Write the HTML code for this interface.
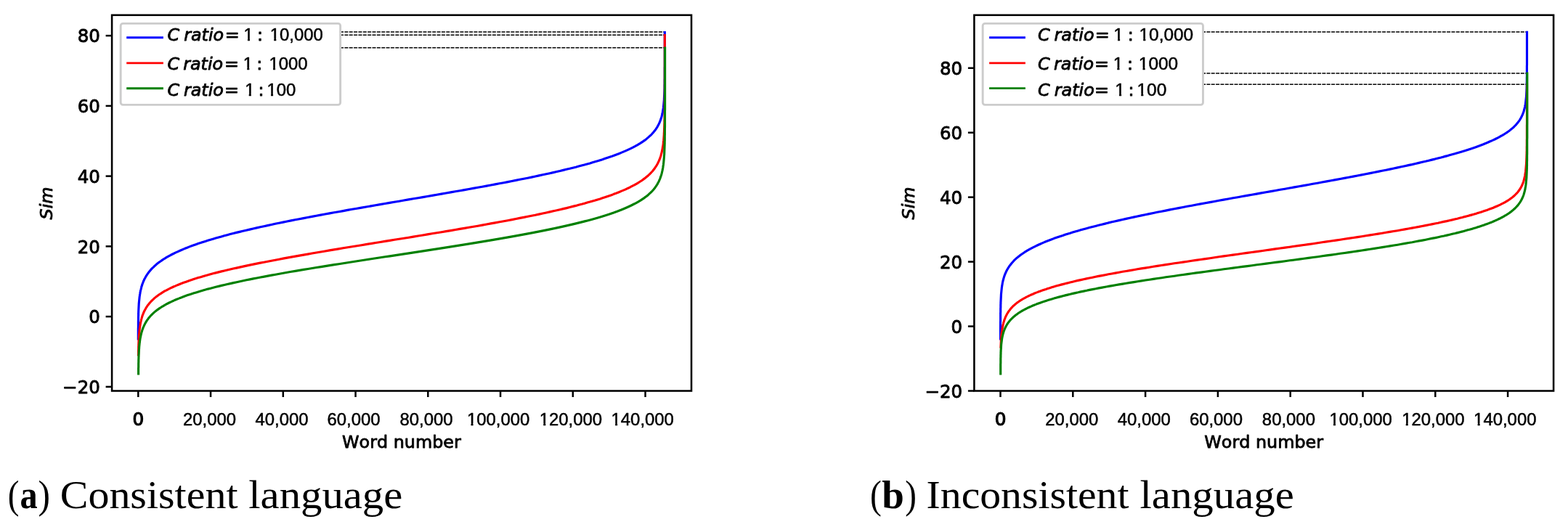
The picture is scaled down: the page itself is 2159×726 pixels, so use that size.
<!DOCTYPE html>
<html lang="en"><head><meta charset="utf-8"><title>Sim versus word number</title>
<style>html,body{margin:0;padding:0;background:#fff}body{width:2159px;height:726px;overflow:hidden}svg{display:block}text{font-kerning:none;white-space:pre}.dv{font-family:'DejaVu Sans','Liberation Sans',sans-serif;font-size:23.85px;fill:#000;stroke:#000;stroke-width:0.85px;stroke-linejoin:round}.it{font-family:'DejaVu Sans','Liberation Sans',sans-serif;font-size:23.85px;font-style:italic;fill:#000;stroke:#000;stroke-width:0.85px;stroke-linejoin:round}.ls{font-family:'Liberation Sans','DejaVu Sans',sans-serif;font-size:23.9px;fill:#000;stroke:#000;stroke-width:0.5px;stroke-linejoin:round}.cap{font-family:'Liberation Serif','DejaVu Serif',serif;font-size:55.0px;fill:#000}.b{font-weight:bold}.sp{fill:none;stroke:#000;stroke-width:2.55}.tk{stroke:#000;stroke-width:2.5}.cv{fill:none;stroke-width:3.15;stroke-linejoin:round}.ds{stroke:#000;stroke-width:1.5;stroke-dasharray:5 1.36}</style></head><body>
<svg width="2159" height="726" viewBox="0 0 2159 726">
<rect width="2159" height="726" fill="#fff"/>
<defs><clipPath id="nofoot"><rect x="13.43" y="-30" width="200" height="40"/><rect x="-2" y="-30" width="15.73" height="27.31"/><rect x="5.56" y="-2.99" width="3.01" height="6"/></clipPath></defs>
<line class="ds" x1="468" y1="44.1" x2="915.6" y2="44.1"/>
<line class="ds" x1="468" y1="48.3" x2="915.6" y2="48.3"/>
<line class="ds" x1="468" y1="65.8" x2="915.6" y2="65.8"/>
<path class="cv" stroke="#0000ff" d="M190.3,468.6 L190.3,468.4 L190.3,468.3 L190.3,468.0 L190.3,467.8 L190.3,467.5 L190.3,467.1 L190.3,466.8 L190.3,466.4 L190.3,466.0 L190.3,465.5 L190.3,465.1 L190.3,464.6 L190.3,464.1 L190.3,463.5 L190.3,463.0 L190.3,462.4 L190.3,461.8 L190.3,461.2 L190.3,460.5 L190.3,459.8 L190.3,459.2 L190.3,458.5 L190.3,457.7 L190.3,457.0 L190.3,456.3 L190.3,455.5 L190.3,454.7 L190.3,453.9 L190.3,453.1 L190.3,452.3 L190.4,451.5 L190.4,450.7 L190.4,449.8 L190.4,449.0 L190.4,448.1 L190.4,447.2 L190.4,446.3 L190.4,445.4 L190.4,444.5 L190.4,443.6 L190.4,442.7 L190.4,441.8 L190.5,440.9 L190.5,439.9 L190.5,439.0 L190.5,438.1 L190.5,437.1 L190.5,436.1 L190.6,435.2 L190.6,434.2 L190.6,433.3 L190.6,432.3 L190.6,431.3 L190.7,430.3 L190.7,429.3 L190.7,428.4 L190.8,427.4 L190.8,426.4 L190.9,425.4 L190.9,424.4 L191.0,423.4 L191.0,422.4 L191.1,421.4 L191.1,420.4 L191.2,419.4 L191.2,418.4 L191.3,417.4 L191.4,416.4 L191.5,415.4 L191.6,414.3 L191.7,413.3 L191.8,412.3 L191.9,411.3 L192.0,410.3 L192.1,409.3 L192.2,408.3 L192.4,407.2 L192.5,406.2 L192.7,405.2 L192.9,404.2 L193.0,403.2 L193.2,402.2 L193.4,401.1 L193.6,400.1 L193.9,399.1 L194.1,398.1 L194.4,397.1 L194.6,396.0 L194.9,395.0 L195.2,394.0 L195.5,393.0 L195.9,391.9 L196.2,390.9 L196.6,389.9 L197.0,388.9 L197.4,387.8 L197.9,386.8 L198.3,385.8 L198.8,384.8 L199.3,383.7 L199.9,382.7 L200.4,381.7 L201.0,380.7 L201.7,379.6 L202.3,378.6 L203.0,377.6 L203.7,376.6 L204.5,375.5 L205.3,374.5 L206.1,373.5 L207.0,372.4 L207.9,371.4 L208.8,370.4 L209.8,369.3 L210.9,368.3 L212.0,367.3 L213.1,366.2 L214.3,365.2 L215.5,364.1 L216.8,363.1 L218.1,362.1 L219.5,361.0 L221.0,360.0 L222.5,358.9 L224.0,357.9 L225.7,356.8 L227.3,355.8 L229.1,354.7 L230.9,353.7 L232.8,352.6 L234.7,351.6 L236.7,350.5 L238.8,349.5 L241.0,348.4 L243.2,347.4 L245.5,346.3 L247.9,345.2 L250.3,344.2 L252.9,343.1 L255.5,342.0 L258.2,341.0 L260.9,339.9 L263.8,338.8 L266.7,337.8 L269.8,336.7 L272.9,335.6 L276.1,334.6 L279.3,333.5 L282.7,332.4 L286.2,331.3 L289.7,330.2 L293.3,329.2 L297.1,328.1 L300.9,327.0 L304.8,325.9 L308.7,324.8 L312.8,323.7 L317.0,322.6 L321.2,321.5 L325.6,320.4 L330.0,319.4 L334.5,318.3 L339.1,317.2 L343.8,316.1 L348.6,315.0 L353.5,313.9 L358.4,312.8 L363.4,311.7 L368.5,310.6 L373.7,309.5 L379.0,308.3 L384.3,307.2 L389.8,306.1 L395.2,305.0 L400.8,303.9 L406.4,302.8 L412.1,301.7 L417.9,300.6 L423.7,299.5 L429.6,298.4 L435.6,297.2 L441.6,296.1 L447.6,295.0 L453.8,293.9 L459.9,292.8 L466.1,291.7 L472.4,290.6 L478.6,289.4 L485.0,288.3 L491.3,287.2 L497.7,286.1 L504.1,285.0 L510.6,283.9 L517.0,282.7 L523.5,281.6 L530.0,280.5 L536.5,279.4 L543.0,278.3 L549.5,277.2 L556.1,276.0 L562.6,274.9 L569.1,273.8 L575.6,272.7 L582.1,271.6 L588.6,270.5 L595.0,269.4 L601.5,268.2 L607.9,267.1 L614.3,266.0 L620.6,264.9 L627.0,263.8 L633.2,262.7 L639.5,261.6 L645.7,260.5 L651.8,259.4 L658.0,258.3 L664.0,257.2 L670.0,256.1 L676.0,255.0 L681.9,253.9 L687.7,252.8 L693.5,251.7 L699.2,250.6 L704.8,249.5 L710.4,248.4 L715.8,247.3 L721.3,246.2 L726.6,245.2 L731.9,244.1 L737.1,243.0 L742.2,241.9 L747.2,240.8 L752.1,239.8 L757.0,238.7 L761.8,237.6 L766.5,236.5 L771.1,235.5 L775.6,234.4 L780.0,233.3 L784.4,232.3 L788.6,231.2 L792.8,230.2 L796.9,229.1 L800.8,228.0 L804.7,227.0 L808.5,225.9 L812.3,224.9 L815.9,223.8 L819.4,222.8 L822.9,221.8 L826.3,220.7 L829.5,219.7 L832.7,218.6 L835.8,217.6 L838.9,216.6 L841.8,215.6 L844.7,214.5 L847.4,213.5 L850.1,212.5 L852.7,211.5 L855.3,210.4 L857.7,209.4 L860.1,208.4 L862.4,207.4 L864.6,206.4 L866.8,205.4 L868.9,204.4 L870.9,203.4 L872.8,202.4 L874.7,201.4 L876.5,200.4 L878.3,199.4 L879.9,198.4 L881.6,197.4 L883.1,196.4 L884.6,195.4 L886.1,194.4 L887.5,193.4 L888.8,192.4 L890.1,191.4 L891.3,190.4 L892.5,189.4 L893.6,188.4 L894.7,187.4 L895.8,186.5 L896.8,185.5 L897.7,184.5 L898.6,183.5 L899.5,182.5 L900.3,181.5 L901.1,180.5 L901.9,179.6 L902.6,178.6 L903.3,177.6 L903.9,176.6 L904.6,175.6 L905.2,174.6 L905.7,173.6 L906.3,172.6 L906.8,171.6 L907.3,170.7 L907.7,169.7 L908.2,168.7 L908.6,167.7 L909.0,166.7 L909.4,165.7 L909.7,164.7 L910.1,163.7 L910.4,162.6 L910.7,161.6 L911.0,160.6 L911.2,159.6 L911.5,158.6 L911.7,157.6 L912.0,156.5 L912.2,155.5 L912.4,154.5 L912.6,153.4 L912.7,152.4 L912.9,151.3 L913.1,150.3 L913.2,149.2 L913.4,148.2 L913.5,147.1 L913.6,146.0 L913.7,145.0 L913.8,143.9 L913.9,142.8 L914.0,141.7 L914.1,140.6 L914.2,139.5 L914.3,138.4 L914.4,137.3 L914.4,136.2 L914.5,135.0 L914.5,133.9 L914.6,132.8 L914.6,131.6 L914.7,130.5 L914.7,129.3 L914.8,128.1 L914.8,126.9 L914.9,125.7 L914.9,124.5 L914.9,123.3 L915.0,122.1 L915.0,120.9 L915.0,119.7 L915.0,118.4 L915.0,117.2 L915.1,115.9 L915.1,114.7 L915.1,113.4 L915.1,112.1 L915.1,110.8 L915.1,109.5 L915.2,108.2 L915.2,106.8 L915.2,105.5 L915.2,104.2 L915.2,102.8 L915.2,101.4 L915.2,100.0 L915.2,98.7 L915.2,97.2 L915.2,95.8 L915.2,94.4 L915.2,93.0 L915.3,91.5 L915.3,90.1 L915.3,88.6 L915.3,87.1 L915.3,85.6 L915.3,84.1 L915.3,82.6 L915.3,81.1 L915.3,79.5 L915.3,78.0 L915.3,76.4 L915.3,74.9 L915.3,73.3 L915.3,71.7 L915.3,70.1 L915.3,68.5 L915.3,66.8 L915.3,65.2 L915.3,63.6 L915.3,61.9 L915.3,60.2 L915.3,58.6 L915.3,56.9 L915.3,55.2 L915.3,53.5 L915.3,51.7 L915.3,50.0 L915.3,48.3 L915.3,46.5 L915.3,44.8 L915.3,43.0"/>
<path class="cv" stroke="#ff0000" d="M190.4,490.6 L190.4,490.6 L190.4,490.6 L190.4,490.6 L190.4,490.6 L190.4,490.6 L190.4,490.6 L190.4,490.6 L190.4,490.6 L190.4,490.6 L190.4,490.6 L190.4,490.6 L190.4,490.6 L190.4,490.6 L190.4,490.6 L190.4,490.6 L190.4,490.6 L190.4,490.6 L190.4,490.6 L190.4,490.6 L190.4,490.6 L190.4,490.6 L190.4,490.6 L190.4,490.6 L190.4,490.6 L190.4,490.6 L190.4,490.6 L190.4,490.6 L190.4,490.6 L190.4,490.6 L190.4,490.6 L190.5,490.6 L190.5,490.6 L190.5,490.6 L190.5,490.6 L190.5,490.6 L190.5,490.6 L190.5,490.6 L190.5,490.6 L190.5,490.6 L190.5,490.0 L190.5,489.2 L190.5,488.3 L190.6,487.4 L190.6,486.4 L190.6,485.5 L190.6,484.6 L190.6,483.6 L190.6,482.6 L190.7,481.6 L190.7,480.6 L190.7,479.6 L190.7,478.5 L190.7,477.5 L190.8,476.5 L190.8,475.4 L190.8,474.4 L190.9,473.3 L190.9,472.2 L191.0,471.1 L191.0,470.1 L191.1,469.0 L191.1,467.9 L191.2,466.8 L191.2,465.7 L191.3,464.6 L191.3,463.5 L191.4,462.4 L191.5,461.3 L191.6,460.2 L191.7,459.1 L191.8,458.0 L191.9,456.9 L192.0,455.8 L192.1,454.7 L192.2,453.6 L192.3,452.6 L192.5,451.5 L192.6,450.4 L192.8,449.3 L193.0,448.2 L193.1,447.1 L193.3,446.0 L193.5,445.0 L193.7,443.9 L194.0,442.8 L194.2,441.8 L194.5,440.7 L194.7,439.6 L195.0,438.6 L195.3,437.5 L195.6,436.5 L196.0,435.4 L196.3,434.4 L196.7,433.4 L197.1,432.3 L197.5,431.3 L198.0,430.3 L198.4,429.2 L198.9,428.2 L199.4,427.2 L200.0,426.2 L200.5,425.2 L201.1,424.2 L201.8,423.2 L202.4,422.2 L203.1,421.2 L203.8,420.2 L204.6,419.2 L205.4,418.2 L206.2,417.2 L207.1,416.2 L208.0,415.2 L208.9,414.3 L209.9,413.3 L211.0,412.3 L212.1,411.3 L213.2,410.4 L214.4,409.4 L215.6,408.4 L216.9,407.5 L218.2,406.5 L219.6,405.5 L221.1,404.6 L222.6,403.6 L224.1,402.7 L225.7,401.7 L227.4,400.7 L229.2,399.8 L231.0,398.8 L232.9,397.9 L234.8,396.9 L236.8,396.0 L238.9,395.0 L241.1,394.1 L243.3,393.1 L245.6,392.2 L248.0,391.2 L250.4,390.3 L253.0,389.3 L255.6,388.4 L258.3,387.4 L261.0,386.4 L263.9,385.5 L266.8,384.5 L269.9,383.6 L273.0,382.6 L276.2,381.7 L279.4,380.7 L282.8,379.7 L286.3,378.8 L289.8,377.8 L293.4,376.8 L297.1,375.9 L301.0,374.9 L304.9,373.9 L308.8,373.0 L312.9,372.0 L317.1,371.0 L321.3,370.0 L325.7,369.1 L330.1,368.1 L334.6,367.1 L339.2,366.1 L343.9,365.1 L348.7,364.1 L353.6,363.1 L358.5,362.1 L363.5,361.2 L368.6,360.2 L373.8,359.2 L379.1,358.2 L384.4,357.2 L389.8,356.1 L395.3,355.1 L400.9,354.1 L406.5,353.1 L412.2,352.1 L418.0,351.1 L423.8,350.1 L429.7,349.0 L435.7,348.0 L441.7,347.0 L447.7,346.0 L453.8,344.9 L460.0,343.9 L466.2,342.9 L472.4,341.8 L478.7,340.8 L485.0,339.8 L491.4,338.7 L497.8,337.7 L504.2,336.6 L510.6,335.6 L517.1,334.5 L523.6,333.5 L530.1,332.4 L536.6,331.4 L543.1,330.3 L549.6,329.3 L556.1,328.2 L562.7,327.2 L569.2,326.1 L575.7,325.0 L582.2,324.0 L588.6,322.9 L595.1,321.8 L601.5,320.8 L608.0,319.7 L614.3,318.6 L620.7,317.6 L627.0,316.5 L633.3,315.4 L639.6,314.4 L645.8,313.3 L651.9,312.2 L658.0,311.2 L664.1,310.1 L670.1,309.0 L676.0,307.9 L681.9,306.9 L687.8,305.8 L693.5,304.7 L699.2,303.7 L704.9,302.6 L710.4,301.5 L715.9,300.4 L721.3,299.4 L726.7,298.3 L731.9,297.2 L737.1,296.2 L742.2,295.1 L747.3,294.0 L752.2,293.0 L757.1,291.9 L761.8,290.8 L766.5,289.8 L771.1,288.7 L775.6,287.6 L780.1,286.6 L784.4,285.5 L788.7,284.4 L792.8,283.4 L796.9,282.3 L800.9,281.3 L804.8,280.2 L808.6,279.1 L812.3,278.1 L816.0,277.0 L819.5,276.0 L822.9,274.9 L826.3,273.9 L829.6,272.8 L832.8,271.8 L835.9,270.7 L838.9,269.7 L841.9,268.7 L844.7,267.6 L847.5,266.6 L850.2,265.5 L852.8,264.5 L855.3,263.4 L857.8,262.4 L860.2,261.4 L862.5,260.3 L864.7,259.3 L866.8,258.3 L868.9,257.2 L870.9,256.2 L872.9,255.2 L874.8,254.1 L876.6,253.1 L878.3,252.1 L880.0,251.0 L881.6,250.0 L883.2,249.0 L884.7,247.9 L886.1,246.9 L887.5,245.9 L888.9,244.8 L890.1,243.8 L891.4,242.7 L892.6,241.7 L893.7,240.7 L894.8,239.6 L895.8,238.6 L896.8,237.5 L897.8,236.5 L898.7,235.5 L899.5,234.4 L900.4,233.4 L901.2,232.3 L901.9,231.2 L902.6,230.2 L903.3,229.1 L904.0,228.1 L904.6,227.0 L905.2,225.9 L905.8,224.8 L906.3,223.8 L906.8,222.7 L907.3,221.6 L907.8,220.5 L908.2,219.4 L908.7,218.3 L909.0,217.2 L909.4,216.1 L909.8,214.9 L910.1,213.8 L910.4,212.7 L910.7,211.5 L911.0,210.4 L911.3,209.2 L911.5,208.1 L911.8,206.9 L912.0,205.7 L912.2,204.5 L912.4,203.3 L912.6,202.1 L912.8,200.9 L913.0,199.7 L913.1,198.4 L913.3,197.2 L913.4,195.9 L913.5,194.7 L913.7,193.4 L913.8,192.1 L913.9,190.8 L914.0,189.5 L914.1,188.1 L914.2,186.8 L914.3,185.4 L914.3,184.1 L914.4,182.7 L914.5,181.3 L914.5,179.9 L914.6,178.5 L914.6,177.0 L914.7,175.6 L914.7,174.1 L914.8,172.6 L914.8,171.1 L914.9,169.6 L914.9,168.0 L914.9,166.5 L915.0,164.9 L915.0,163.3 L915.0,161.7 L915.1,160.0 L915.1,158.4 L915.1,156.7 L915.1,155.0 L915.1,153.3 L915.2,151.6 L915.2,149.8 L915.2,148.0 L915.2,146.3 L915.2,144.4 L915.2,142.6 L915.2,140.7 L915.2,138.9 L915.3,137.0 L915.3,135.0 L915.3,133.1 L915.3,131.1 L915.3,129.1 L915.3,127.1 L915.3,125.1 L915.3,123.0 L915.3,120.9 L915.3,118.8 L915.3,116.7 L915.3,114.5 L915.3,112.3 L915.3,110.1 L915.3,107.9 L915.3,105.6 L915.3,103.3 L915.3,101.0 L915.3,98.7 L915.3,96.3 L915.3,93.9 L915.3,91.5 L915.3,89.1 L915.3,86.7 L915.3,84.2 L915.3,81.7 L915.3,79.2 L915.3,76.6 L915.3,74.0 L915.3,71.4 L915.3,68.8 L915.3,66.2 L915.3,63.5 L915.3,60.8 L915.3,58.1 L915.3,55.4 L915.3,52.7 L915.3,49.9 L915.3,47.1"/>
<path class="cv" stroke="#008000" d="M190.6,516.6 L190.6,516.6 L190.6,516.6 L190.6,516.6 L190.6,516.6 L190.6,516.6 L190.6,516.6 L190.6,516.6 L190.6,516.6 L190.6,516.6 L190.6,516.6 L190.6,516.6 L190.6,516.6 L190.6,516.6 L190.6,516.6 L190.6,516.6 L190.6,516.6 L190.6,516.6 L190.6,516.6 L190.6,516.6 L190.6,516.6 L190.6,516.6 L190.6,516.6 L190.6,516.6 L190.6,516.2 L190.6,515.7 L190.6,515.2 L190.6,514.6 L190.6,514.0 L190.6,513.4 L190.6,512.8 L190.6,512.1 L190.6,511.4 L190.6,510.7 L190.6,510.0 L190.6,509.3 L190.6,508.5 L190.6,507.8 L190.6,507.0 L190.7,506.2 L190.7,505.3 L190.7,504.5 L190.7,503.7 L190.7,502.8 L190.7,501.9 L190.7,501.0 L190.7,500.1 L190.8,499.2 L190.8,498.3 L190.8,497.4 L190.8,496.5 L190.8,495.5 L190.9,494.6 L190.9,493.6 L190.9,492.6 L191.0,491.7 L191.0,490.7 L191.0,489.7 L191.1,488.7 L191.1,487.7 L191.2,486.7 L191.2,485.7 L191.3,484.7 L191.3,483.7 L191.4,482.7 L191.4,481.7 L191.5,480.7 L191.6,479.6 L191.6,478.6 L191.7,477.6 L191.8,476.6 L191.9,475.5 L192.0,474.5 L192.1,473.5 L192.2,472.5 L192.4,471.4 L192.5,470.4 L192.6,469.4 L192.8,468.4 L192.9,467.3 L193.1,466.3 L193.3,465.3 L193.5,464.3 L193.7,463.2 L193.9,462.2 L194.1,461.2 L194.4,460.2 L194.6,459.2 L194.9,458.1 L195.2,457.1 L195.5,456.1 L195.8,455.1 L196.1,454.1 L196.5,453.1 L196.9,452.1 L197.2,451.1 L197.7,450.1 L198.1,449.1 L198.6,448.1 L199.1,447.1 L199.6,446.1 L200.1,445.1 L200.7,444.1 L201.3,443.1 L201.9,442.1 L202.6,441.1 L203.3,440.1 L204.0,439.2 L204.7,438.2 L205.5,437.2 L206.4,436.2 L207.2,435.3 L208.1,434.3 L209.1,433.3 L210.1,432.3 L211.1,431.4 L212.2,430.4 L213.4,429.4 L214.5,428.5 L215.8,427.5 L217.0,426.6 L218.4,425.6 L219.8,424.6 L221.2,423.7 L222.7,422.7 L224.3,421.8 L225.9,420.8 L227.6,419.9 L229.3,418.9 L231.1,418.0 L233.0,417.0 L235.0,416.1 L237.0,415.1 L239.1,414.2 L241.2,413.2 L243.4,412.3 L245.8,411.4 L248.1,410.4 L250.6,409.5 L253.1,408.5 L255.7,407.6 L258.4,406.6 L261.2,405.7 L264.1,404.7 L267.0,403.8 L270.0,402.9 L273.1,401.9 L276.3,401.0 L279.6,400.0 L283.0,399.1 L286.4,398.1 L290.0,397.2 L293.6,396.3 L297.3,395.3 L301.1,394.4 L305.0,393.4 L309.0,392.5 L313.1,391.5 L317.2,390.6 L321.5,389.6 L325.8,388.7 L330.3,387.7 L334.8,386.8 L339.4,385.8 L344.1,384.9 L348.9,383.9 L353.7,383.0 L358.7,382.0 L363.7,381.1 L368.8,380.1 L374.0,379.1 L379.3,378.2 L384.6,377.2 L390.0,376.3 L395.5,375.3 L401.1,374.3 L406.7,373.4 L412.4,372.4 L418.2,371.4 L424.0,370.5 L429.9,369.5 L435.8,368.5 L441.8,367.6 L447.9,366.6 L454.0,365.6 L460.2,364.6 L466.4,363.7 L472.6,362.7 L478.9,361.7 L485.2,360.7 L491.6,359.7 L498.0,358.8 L504.4,357.8 L510.8,356.8 L517.3,355.8 L523.8,354.8 L530.3,353.8 L536.8,352.9 L543.3,351.9 L549.8,350.9 L556.3,349.9 L562.9,348.9 L569.4,347.9 L575.9,346.9 L582.4,345.9 L588.8,344.9 L595.3,343.9 L601.8,342.9 L608.2,341.9 L614.6,340.9 L620.9,339.9 L627.2,338.9 L633.5,337.9 L639.8,336.9 L646.0,335.9 L652.1,334.9 L658.2,333.9 L664.3,332.9 L670.3,331.9 L676.3,330.9 L682.1,329.9 L688.0,328.9 L693.7,327.9 L699.4,326.9 L705.1,325.9 L710.6,324.9 L716.1,323.9 L721.5,322.9 L726.9,321.9 L732.2,320.9 L737.3,319.9 L742.5,318.9 L747.5,317.9 L752.4,316.9 L757.3,315.9 L762.1,314.9 L766.8,313.9 L771.4,312.9 L775.9,311.9 L780.3,310.9 L784.6,309.9 L788.9,308.9 L793.1,307.9 L797.1,306.9 L801.1,305.9 L805.0,304.9 L808.8,303.9 L812.6,302.9 L816.2,301.9 L819.7,300.9 L823.2,299.9 L826.6,298.9 L829.8,297.9 L833.0,296.9 L836.1,295.9 L839.2,294.9 L842.1,293.9 L845.0,292.9 L847.7,291.9 L850.4,291.0 L853.0,290.0 L855.6,289.0 L858.0,288.0 L860.4,287.0 L862.7,286.0 L864.9,285.0 L867.1,284.0 L869.2,283.0 L871.2,282.0 L873.1,281.0 L875.0,280.1 L876.8,279.1 L878.6,278.1 L880.2,277.1 L881.9,276.1 L883.4,275.1 L884.9,274.1 L886.4,273.1 L887.8,272.1 L889.1,271.1 L890.4,270.2 L891.6,269.2 L892.8,268.2 L893.9,267.2 L895.0,266.2 L896.1,265.2 L897.1,264.2 L898.0,263.2 L898.9,262.2 L899.8,261.2 L900.6,260.2 L901.4,259.2 L902.2,258.1 L902.9,257.1 L903.6,256.1 L904.2,255.1 L904.9,254.1 L905.5,253.1 L906.0,252.0 L906.6,251.0 L907.1,250.0 L907.6,248.9 L908.0,247.9 L908.5,246.8 L908.9,245.8 L909.3,244.7 L909.7,243.7 L910.0,242.6 L910.4,241.5 L910.7,240.5 L911.0,239.4 L911.3,238.3 L911.5,237.2 L911.8,236.1 L912.0,235.0 L912.3,233.9 L912.5,232.7 L912.7,231.6 L912.9,230.5 L913.0,229.3 L913.2,228.2 L913.4,227.0 L913.5,225.8 L913.7,224.6 L913.8,223.4 L913.9,222.2 L914.0,221.0 L914.1,219.8 L914.2,218.5 L914.3,217.3 L914.4,216.0 L914.5,214.7 L914.6,213.4 L914.7,212.1 L914.7,210.8 L914.8,209.4 L914.8,208.1 L914.9,206.7 L914.9,205.3 L915.0,203.9 L915.0,202.5 L915.1,201.0 L915.1,199.6 L915.2,198.1 L915.2,196.6 L915.2,195.1 L915.3,193.5 L915.3,192.0 L915.3,190.4 L915.3,188.8 L915.3,187.2 L915.4,185.5 L915.4,183.8 L915.4,182.1 L915.4,180.4 L915.4,178.6 L915.4,176.9 L915.5,175.1 L915.5,173.2 L915.5,171.4 L915.5,169.5 L915.5,167.5 L915.5,165.6 L915.5,163.6 L915.5,161.6 L915.5,159.5 L915.5,157.5 L915.5,155.3 L915.5,153.2 L915.6,151.0 L915.6,148.8 L915.6,146.5 L915.6,144.2 L915.6,141.9 L915.6,139.5 L915.6,137.1 L915.6,134.6 L915.6,132.1 L915.6,129.6 L915.6,127.0 L915.6,124.3 L915.6,121.7 L915.6,118.9 L915.6,116.1 L915.6,113.3 L915.6,110.5 L915.6,107.5 L915.6,104.6 L915.6,101.5 L915.6,98.5 L915.6,95.3 L915.6,92.2 L915.6,88.9 L915.6,85.6 L915.6,82.3 L915.6,78.9 L915.6,75.4 L915.6,71.8 L915.6,68.3 L915.6,64.6"/>
<rect class="sp" x="154.1" y="20.8" width="797.9" height="517.7"/>
<line class="tk" x1="190.30" y1="538.5" x2="190.30" y2="547.0"/>
<text class="dv" style="font-size:24.7px;stroke-width:1.15px" x="182.55" y="586.30">0</text>
<line class="tk" x1="290.05" y1="538.5" x2="290.05" y2="547.0"/>
<text class="ls" x="251.94" y="585.60">20,000</text>
<line class="tk" x1="389.80" y1="538.5" x2="389.80" y2="547.0"/>
<text class="ls" x="351.45" y="585.60">40,000</text>
<line class="tk" x1="489.55" y1="538.5" x2="489.55" y2="547.0"/>
<text class="ls" x="450.53" y="585.60">60,000</text>
<line class="tk" x1="589.30" y1="538.5" x2="589.30" y2="547.0"/>
<text class="ls" x="550.46" y="585.60">80,000</text>
<line class="tk" x1="689.05" y1="538.5" x2="689.05" y2="547.0"/>
<text class="ls" transform="translate(642.95,585.60)" clip-path="url(#nofoot)">100,000</text>
<line class="tk" x1="788.80" y1="538.5" x2="788.80" y2="547.0"/>
<text class="ls" transform="translate(742.70,585.60)" clip-path="url(#nofoot)">120,000</text>
<line class="tk" x1="888.55" y1="538.5" x2="888.55" y2="547.0"/>
<text class="ls" transform="translate(841.55,585.60)" clip-path="url(#nofoot)">140,000</text>
<line class="tk" x1="145.6" y1="49.15" x2="154.1" y2="49.15"/>
<text class="dv" style="font-size:24.5px" x="106.65" y="58.40">80</text>
<line class="tk" x1="145.6" y1="145.89" x2="154.1" y2="145.89"/>
<text class="dv" style="font-size:24.5px" x="106.65" y="155.14">60</text>
<line class="tk" x1="145.6" y1="242.63" x2="154.1" y2="242.63"/>
<text class="dv" style="font-size:24.5px" x="106.65" y="251.88">40</text>
<line class="tk" x1="145.6" y1="339.36999999999995" x2="154.1" y2="339.36999999999995"/>
<text class="dv" style="font-size:24.5px" x="106.65" y="348.62">20</text>
<line class="tk" x1="145.6" y1="436.10999999999996" x2="154.1" y2="436.10999999999996"/>
<text class="dv" style="font-size:24.5px" x="122.24" y="445.36">0</text>
<line class="tk" x1="145.6" y1="532.85" x2="154.1" y2="532.85"/>
<text class="dv" style="font-size:24.5px" x="86.12" y="542.10">−20</text>
<text class="dv" x="471.06" y="617.35">Word number</text>
<text class="it" transform="translate(71.80,302.45) rotate(-90)">Sim</text>
<rect x="166.15" y="32.35" width="302.50" height="112.0" rx="3.2" ry="3.2" fill="#fff" fill-opacity="0.8" stroke="#ccc" stroke-width="2.9"/>
<line x1="174.20" y1="51.7" x2="224.90" y2="51.7" stroke="#0000ff" stroke-width="2.85"/>
<clipPath id="lca0"><path clip-rule="evenodd" d="M164.7,26.0h320v45h-320ZM336.32,53.31H340.96V57.50H336.32ZM343.97,53.31H348.52V57.50H343.97ZM372.62,53.31H377.26V57.50H372.62ZM380.27,53.31H384.82V57.50H380.27Z"/></clipPath>
<text y="56.0" clip-path="url(#lca0)"><tspan class="it" x="230.60">C</tspan> <tspan class="it" x="253.16">ratio</tspan> <tspan class="dv" x="309.87">=</tspan> <tspan class="ls" x="335.40">1</tspan> <tspan class="dv" x="353.91">:</tspan> <tspan class="ls" x="371.70">10,000</tspan></text>
<line x1="174.20" y1="86.8" x2="224.90" y2="86.8" stroke="#ff0000" stroke-width="2.85"/>
<clipPath id="lca1"><path clip-rule="evenodd" d="M164.7,65.7h320v45h-320ZM335.62,93.01H340.26V97.20H335.62ZM343.27,93.01H347.82V97.20H343.27ZM371.42,93.01H376.06V97.20H371.42ZM379.07,93.01H383.62V97.20H379.07Z"/></clipPath>
<text y="95.7" clip-path="url(#lca1)"><tspan class="it" x="230.60">C</tspan> <tspan class="it" x="252.16">ratio</tspan> <tspan class="dv" x="309.07">=</tspan> <tspan class="ls" x="334.70">1</tspan> <tspan class="dv" x="353.21">:</tspan> <tspan class="ls" x="370.50">1000</tspan></text>
<line x1="174.20" y1="121.7" x2="224.90" y2="121.7" stroke="#008000" stroke-width="2.85"/>
<clipPath id="lca2"><path clip-rule="evenodd" d="M164.7,101.9h320v45h-320ZM338.12,129.21H342.76V133.40H338.12ZM345.77,129.21H350.32V133.40H345.77ZM368.42,129.21H373.06V133.40H368.42ZM376.07,129.21H380.62V133.40H376.07Z"/></clipPath>
<text y="131.9" clip-path="url(#lca2)"><tspan class="it" x="230.60">C</tspan> <tspan class="it" x="252.96">ratio</tspan> <tspan class="dv" x="309.07">=</tspan> <tspan class="ls" x="337.20">1</tspan> <tspan class="dv" x="355.41">:</tspan> <tspan class="ls" x="367.50">100</tspan></text>
<line class="ds" x1="1655" y1="44.0" x2="2102.9" y2="44.0"/>
<line class="ds" x1="1655" y1="100.9" x2="2102.9" y2="100.9"/>
<line class="ds" x1="1655" y1="116.2" x2="2102.9" y2="116.2"/>
<path class="cv" stroke="#0000ff" d="M1377.5,468.6 L1377.5,468.1 L1377.5,467.5 L1377.5,466.9 L1377.5,466.3 L1377.5,465.7 L1377.5,465.0 L1377.5,464.3 L1377.5,463.6 L1377.5,462.8 L1377.5,462.1 L1377.5,461.3 L1377.5,460.5 L1377.5,459.7 L1377.5,458.8 L1377.5,458.0 L1377.5,457.1 L1377.5,456.2 L1377.5,455.3 L1377.5,454.4 L1377.5,453.5 L1377.5,452.5 L1377.5,451.6 L1377.5,450.6 L1377.5,449.6 L1377.5,448.6 L1377.5,447.7 L1377.5,446.7 L1377.5,445.7 L1377.5,444.7 L1377.5,443.6 L1377.6,442.6 L1377.6,441.6 L1377.6,440.6 L1377.6,439.5 L1377.6,438.5 L1377.6,437.4 L1377.6,436.4 L1377.6,435.3 L1377.6,434.3 L1377.6,433.2 L1377.6,432.2 L1377.6,431.1 L1377.7,430.1 L1377.7,429.0 L1377.7,428.0 L1377.7,426.9 L1377.7,425.9 L1377.7,424.8 L1377.8,423.7 L1377.8,422.7 L1377.8,421.6 L1377.8,420.6 L1377.8,419.5 L1377.9,418.5 L1377.9,417.4 L1377.9,416.4 L1378.0,415.3 L1378.0,414.3 L1378.1,413.2 L1378.1,412.2 L1378.2,411.2 L1378.2,410.1 L1378.3,409.1 L1378.3,408.1 L1378.4,407.0 L1378.4,406.0 L1378.5,405.0 L1378.6,403.9 L1378.7,402.9 L1378.8,401.9 L1378.9,400.9 L1379.0,399.9 L1379.1,398.9 L1379.2,397.8 L1379.3,396.8 L1379.4,395.8 L1379.6,394.8 L1379.7,393.8 L1379.9,392.8 L1380.1,391.8 L1380.2,390.8 L1380.4,389.8 L1380.6,388.8 L1380.8,387.8 L1381.1,386.8 L1381.3,385.8 L1381.6,384.8 L1381.8,383.9 L1382.1,382.9 L1382.4,381.9 L1382.7,380.9 L1383.1,379.9 L1383.4,378.9 L1383.8,377.9 L1384.2,377.0 L1384.6,376.0 L1385.1,375.0 L1385.5,374.0 L1386.0,373.0 L1386.5,372.0 L1387.1,371.1 L1387.6,370.1 L1388.2,369.1 L1388.9,368.1 L1389.5,367.1 L1390.2,366.1 L1390.9,365.2 L1391.7,364.2 L1392.5,363.2 L1393.3,362.2 L1394.2,361.2 L1395.1,360.2 L1396.0,359.2 L1397.0,358.2 L1398.1,357.2 L1399.2,356.2 L1400.3,355.2 L1401.5,354.3 L1402.7,353.3 L1404.0,352.3 L1405.3,351.2 L1406.7,350.2 L1408.2,349.2 L1409.7,348.2 L1411.2,347.2 L1412.9,346.2 L1414.5,345.2 L1416.3,344.2 L1418.1,343.2 L1420.0,342.1 L1421.9,341.1 L1423.9,340.1 L1426.0,339.1 L1428.2,338.0 L1430.4,337.0 L1432.7,336.0 L1435.1,334.9 L1437.5,333.9 L1440.1,332.8 L1442.7,331.8 L1445.4,330.7 L1448.1,329.7 L1451.0,328.6 L1453.9,327.6 L1457.0,326.5 L1460.1,325.4 L1463.3,324.4 L1466.5,323.3 L1469.9,322.2 L1473.4,321.2 L1476.9,320.1 L1480.5,319.0 L1484.3,317.9 L1488.1,316.8 L1492.0,315.7 L1495.9,314.7 L1500.0,313.6 L1504.2,312.5 L1508.4,311.4 L1512.8,310.3 L1517.2,309.2 L1521.7,308.1 L1526.3,306.9 L1531.0,305.8 L1535.8,304.7 L1540.7,303.6 L1545.6,302.5 L1550.6,301.4 L1555.7,300.2 L1560.9,299.1 L1566.2,298.0 L1571.5,296.9 L1577.0,295.7 L1582.4,294.6 L1588.0,293.5 L1593.6,292.3 L1599.3,291.2 L1605.1,290.1 L1610.9,288.9 L1616.8,287.8 L1622.8,286.6 L1628.8,285.5 L1634.8,284.3 L1641.0,283.2 L1647.1,282.0 L1653.3,280.9 L1659.6,279.8 L1665.8,278.6 L1672.2,277.5 L1678.5,276.3 L1684.9,275.1 L1691.3,274.0 L1697.8,272.8 L1704.2,271.7 L1710.7,270.5 L1717.2,269.4 L1723.7,268.2 L1730.2,267.1 L1736.7,265.9 L1743.3,264.8 L1749.8,263.6 L1756.3,262.5 L1762.8,261.3 L1769.3,260.2 L1775.8,259.0 L1782.2,257.9 L1788.7,256.7 L1795.1,255.6 L1801.5,254.5 L1807.8,253.3 L1814.2,252.2 L1820.4,251.0 L1826.7,249.9 L1832.9,248.8 L1839.0,247.6 L1845.2,246.5 L1851.2,245.4 L1857.2,244.2 L1863.2,243.1 L1869.1,242.0 L1874.9,240.9 L1880.7,239.8 L1886.4,238.6 L1892.0,237.5 L1897.6,236.4 L1903.0,235.3 L1908.5,234.2 L1913.8,233.1 L1919.1,232.0 L1924.3,230.9 L1929.4,229.8 L1934.4,228.7 L1939.3,227.6 L1944.2,226.6 L1949.0,225.5 L1953.7,224.4 L1958.3,223.3 L1962.8,222.3 L1967.2,221.2 L1971.6,220.1 L1975.8,219.1 L1980.0,218.0 L1984.1,217.0 L1988.0,215.9 L1991.9,214.9 L1995.7,213.8 L1999.5,212.8 L2003.1,211.8 L2006.6,210.7 L2010.1,209.7 L2013.5,208.7 L2016.7,207.7 L2019.9,206.7 L2023.0,205.7 L2026.1,204.7 L2029.0,203.7 L2031.9,202.7 L2034.6,201.7 L2037.3,200.7 L2039.9,199.7 L2042.5,198.7 L2044.9,197.7 L2047.3,196.8 L2049.6,195.8 L2051.8,194.8 L2054.0,193.9 L2056.1,192.9 L2058.1,192.0 L2060.0,191.0 L2061.9,190.1 L2063.7,189.1 L2065.5,188.2 L2067.1,187.2 L2068.8,186.3 L2070.3,185.4 L2071.8,184.5 L2073.3,183.5 L2074.7,182.6 L2076.0,181.7 L2077.3,180.8 L2078.5,179.9 L2079.7,178.9 L2080.8,178.0 L2081.9,177.1 L2083.0,176.2 L2084.0,175.3 L2084.9,174.4 L2085.8,173.5 L2086.7,172.6 L2087.5,171.7 L2088.3,170.8 L2089.1,169.9 L2089.8,169.0 L2090.5,168.1 L2091.1,167.3 L2091.8,166.4 L2092.4,165.5 L2092.9,164.6 L2093.5,163.7 L2094.0,162.8 L2094.5,161.9 L2094.9,161.0 L2095.4,160.1 L2095.8,159.2 L2096.2,158.3 L2096.6,157.5 L2096.9,156.6 L2097.3,155.7 L2097.6,154.8 L2097.9,153.9 L2098.2,153.0 L2098.4,152.0 L2098.7,151.1 L2098.9,150.2 L2099.2,149.3 L2099.4,148.4 L2099.6,147.5 L2099.8,146.5 L2099.9,145.6 L2100.1,144.7 L2100.3,143.7 L2100.4,142.8 L2100.6,141.9 L2100.7,140.9 L2100.8,139.9 L2100.9,139.0 L2101.0,138.0 L2101.1,137.0 L2101.2,136.1 L2101.3,135.1 L2101.4,134.1 L2101.5,133.1 L2101.6,132.1 L2101.6,131.1 L2101.7,130.0 L2101.7,129.0 L2101.8,128.0 L2101.8,126.9 L2101.9,125.9 L2101.9,124.8 L2102.0,123.7 L2102.0,122.7 L2102.1,121.6 L2102.1,120.5 L2102.1,119.4 L2102.2,118.2 L2102.2,117.1 L2102.2,116.0 L2102.2,114.8 L2102.2,113.7 L2102.3,112.5 L2102.3,111.3 L2102.3,110.1 L2102.3,108.9 L2102.3,107.7 L2102.3,106.5 L2102.4,105.2 L2102.4,104.0 L2102.4,102.7 L2102.4,101.5 L2102.4,100.2 L2102.4,98.9 L2102.4,97.6 L2102.4,96.3 L2102.4,94.9 L2102.4,93.6 L2102.4,92.2 L2102.4,90.8 L2102.5,89.5 L2102.5,88.1 L2102.5,86.7 L2102.5,85.2 L2102.5,83.8 L2102.5,82.4 L2102.5,80.9 L2102.5,79.4 L2102.5,78.0 L2102.5,76.5 L2102.5,75.0 L2102.5,73.5 L2102.5,71.9 L2102.5,70.4 L2102.5,68.8 L2102.5,67.3 L2102.5,65.7 L2102.5,64.1 L2102.5,62.5 L2102.5,60.9 L2102.5,59.3 L2102.5,57.7 L2102.5,56.0 L2102.5,54.4 L2102.5,52.8 L2102.5,51.1 L2102.5,49.4 L2102.5,47.8 L2102.5,46.1 L2102.5,44.4 L2102.5,42.7"/>
<path class="cv" stroke="#ff0000" d="M1377.6,479.6 L1377.6,479.6 L1377.6,479.6 L1377.6,479.6 L1377.6,479.6 L1377.6,479.6 L1377.6,479.6 L1377.6,479.6 L1377.6,479.6 L1377.6,479.6 L1377.6,479.6 L1377.6,479.6 L1377.6,479.6 L1377.6,479.6 L1377.6,479.6 L1377.6,479.6 L1377.6,479.6 L1377.6,479.6 L1377.6,479.6 L1377.6,479.6 L1377.6,479.6 L1377.6,479.6 L1377.6,479.6 L1377.6,479.6 L1377.6,479.6 L1377.6,479.6 L1377.6,479.6 L1377.6,479.6 L1377.6,479.6 L1377.6,479.6 L1377.6,479.6 L1377.6,479.6 L1377.6,479.6 L1377.6,479.6 L1377.6,479.6 L1377.6,479.6 L1377.6,479.6 L1377.6,479.6 L1377.6,479.6 L1377.7,479.6 L1377.7,479.6 L1377.7,479.6 L1377.7,479.6 L1377.7,479.6 L1377.7,479.6 L1377.7,479.6 L1377.7,479.6 L1377.8,479.6 L1377.8,479.6 L1377.8,479.6 L1377.8,479.6 L1377.8,479.6 L1377.9,479.6 L1377.9,479.6 L1377.9,478.8 L1378.0,477.8 L1378.0,476.8 L1378.0,475.8 L1378.1,474.8 L1378.1,473.8 L1378.2,472.8 L1378.2,471.8 L1378.3,470.8 L1378.3,469.7 L1378.4,468.7 L1378.4,467.7 L1378.5,466.6 L1378.6,465.6 L1378.6,464.5 L1378.7,463.5 L1378.8,462.5 L1378.9,461.4 L1379.0,460.4 L1379.1,459.4 L1379.2,458.3 L1379.4,457.3 L1379.5,456.3 L1379.6,455.2 L1379.8,454.2 L1379.9,453.2 L1380.1,452.2 L1380.3,451.1 L1380.5,450.1 L1380.7,449.1 L1380.9,448.1 L1381.1,447.1 L1381.4,446.1 L1381.6,445.1 L1381.9,444.1 L1382.2,443.2 L1382.5,442.2 L1382.8,441.2 L1383.1,440.2 L1383.5,439.3 L1383.9,438.3 L1384.2,437.3 L1384.7,436.4 L1385.1,435.4 L1385.6,434.5 L1386.1,433.5 L1386.6,432.6 L1387.1,431.7 L1387.7,430.7 L1388.3,429.8 L1388.9,428.9 L1389.6,428.0 L1390.3,427.1 L1391.0,426.1 L1391.7,425.2 L1392.5,424.3 L1393.4,423.4 L1394.2,422.5 L1395.1,421.6 L1396.1,420.8 L1397.1,419.9 L1398.1,419.0 L1399.2,418.1 L1400.3,417.2 L1401.5,416.3 L1402.8,415.5 L1404.0,414.6 L1405.4,413.7 L1406.8,412.9 L1408.2,412.0 L1409.7,411.1 L1411.3,410.3 L1412.9,409.4 L1414.6,408.6 L1416.3,407.7 L1418.1,406.9 L1420.0,406.0 L1422.0,405.2 L1424.0,404.3 L1426.1,403.4 L1428.2,402.6 L1430.4,401.7 L1432.7,400.9 L1435.1,400.1 L1437.6,399.2 L1440.1,398.4 L1442.7,397.5 L1445.4,396.7 L1448.2,395.8 L1451.0,395.0 L1454.0,394.1 L1457.0,393.3 L1460.1,392.4 L1463.3,391.6 L1466.6,390.7 L1470.0,389.9 L1473.4,389.0 L1476.9,388.2 L1480.6,387.3 L1484.3,386.4 L1488.1,385.6 L1492.0,384.7 L1496.0,383.9 L1500.1,383.0 L1504.2,382.2 L1508.5,381.3 L1512.8,380.4 L1517.3,379.6 L1521.8,378.7 L1526.4,377.8 L1531.1,377.0 L1535.8,376.1 L1540.7,375.2 L1545.6,374.3 L1550.7,373.5 L1555.8,372.6 L1561.0,371.7 L1566.2,370.8 L1571.6,369.9 L1577.0,369.1 L1582.5,368.2 L1588.0,367.3 L1593.7,366.4 L1599.4,365.5 L1605.1,364.6 L1611.0,363.7 L1616.9,362.8 L1622.8,362.0 L1628.8,361.1 L1634.9,360.2 L1641.0,359.3 L1647.1,358.4 L1653.3,357.5 L1659.6,356.6 L1665.9,355.7 L1672.2,354.8 L1678.6,353.8 L1684.9,352.9 L1691.4,352.0 L1697.8,351.1 L1704.3,350.2 L1710.7,349.3 L1717.2,348.4 L1723.7,347.5 L1730.2,346.6 L1736.8,345.7 L1743.3,344.8 L1749.8,343.9 L1756.3,342.9 L1762.8,342.0 L1769.3,341.1 L1775.8,340.2 L1782.3,339.3 L1788.7,338.4 L1795.1,337.5 L1801.5,336.6 L1807.9,335.7 L1814.2,334.7 L1820.5,333.8 L1826.7,332.9 L1832.9,332.0 L1839.1,331.1 L1845.2,330.2 L1851.2,329.3 L1857.2,328.4 L1863.2,327.5 L1869.1,326.6 L1874.9,325.7 L1880.7,324.8 L1886.4,323.9 L1892.0,323.0 L1897.6,322.1 L1903.1,321.2 L1908.5,320.3 L1913.8,319.4 L1919.1,318.5 L1924.3,317.7 L1929.4,316.8 L1934.4,315.9 L1939.3,315.0 L1944.2,314.1 L1949.0,313.2 L1953.7,312.4 L1958.3,311.5 L1962.8,310.6 L1967.2,309.8 L1971.6,308.9 L1975.8,308.0 L1980.0,307.2 L1984.1,306.3 L1988.0,305.4 L1991.9,304.6 L1995.8,303.7 L1999.5,302.9 L2003.1,302.0 L2006.6,301.2 L2010.1,300.3 L2013.5,299.5 L2016.7,298.6 L2019.9,297.8 L2023.0,296.9 L2026.1,296.1 L2029.0,295.3 L2031.9,294.4 L2034.6,293.6 L2037.3,292.8 L2039.9,291.9 L2042.5,291.1 L2044.9,290.3 L2047.3,289.5 L2049.6,288.6 L2051.8,287.8 L2054.0,287.0 L2056.1,286.2 L2058.1,285.3 L2060.0,284.5 L2061.9,283.7 L2063.7,282.9 L2065.5,282.1 L2067.2,281.2 L2068.8,280.4 L2070.3,279.6 L2071.8,278.8 L2073.3,278.0 L2074.7,277.1 L2076.0,276.3 L2077.3,275.5 L2078.5,274.7 L2079.7,273.9 L2080.8,273.0 L2081.9,272.2 L2083.0,271.4 L2084.0,270.5 L2084.9,269.7 L2085.8,268.9 L2086.7,268.0 L2087.5,267.2 L2088.3,266.4 L2089.1,265.5 L2089.8,264.7 L2090.5,263.8 L2091.1,262.9 L2091.8,262.1 L2092.4,261.2 L2092.9,260.3 L2093.5,259.5 L2094.0,258.6 L2094.5,257.7 L2094.9,256.8 L2095.4,255.9 L2095.8,255.0 L2096.2,254.1 L2096.6,253.2 L2096.9,252.2 L2097.3,251.3 L2097.6,250.4 L2097.9,249.4 L2098.2,248.5 L2098.4,247.5 L2098.7,246.5 L2098.9,245.5 L2099.2,244.5 L2099.4,243.5 L2099.6,242.5 L2099.8,241.5 L2099.9,240.5 L2100.1,239.4 L2100.3,238.4 L2100.4,237.3 L2100.6,236.2 L2100.7,235.2 L2100.8,234.1 L2100.9,232.9 L2101.0,231.8 L2101.1,230.7 L2101.2,229.5 L2101.3,228.4 L2101.4,227.2 L2101.5,226.0 L2101.6,224.8 L2101.6,223.6 L2101.7,222.3 L2101.7,221.1 L2101.8,219.8 L2101.8,218.6 L2101.9,217.3 L2101.9,216.0 L2102.0,214.6 L2102.0,213.3 L2102.1,211.9 L2102.1,210.6 L2102.1,209.2 L2102.2,207.8 L2102.2,206.4 L2102.2,204.9 L2102.2,203.5 L2102.2,202.0 L2102.3,200.5 L2102.3,199.0 L2102.3,197.5 L2102.3,196.0 L2102.3,194.4 L2102.3,192.9 L2102.4,191.3 L2102.4,189.7 L2102.4,188.1 L2102.4,186.4 L2102.4,184.8 L2102.4,183.1 L2102.4,181.5 L2102.4,179.8 L2102.4,178.1 L2102.4,176.3 L2102.4,174.6 L2102.4,172.9 L2102.5,171.1 L2102.5,169.3 L2102.5,167.5 L2102.5,165.7 L2102.5,163.9 L2102.5,162.1 L2102.5,160.3 L2102.5,158.4 L2102.5,156.6 L2102.5,154.7 L2102.5,152.8 L2102.5,150.9 L2102.5,149.1 L2102.5,147.2 L2102.5,145.3 L2102.5,143.4 L2102.5,141.4 L2102.5,139.5 L2102.5,137.6 L2102.5,135.7 L2102.5,133.8 L2102.5,131.9 L2102.5,130.0 L2102.5,128.1 L2102.5,126.2 L2102.5,124.3 L2102.5,122.4 L2102.5,120.5 L2102.5,118.7 L2102.5,116.8 L2102.5,115.0"/>
<path class="cv" stroke="#008000" d="M1377.7,516.6 L1377.7,516.2 L1377.7,515.9 L1377.7,515.5 L1377.7,515.1 L1377.7,514.7 L1377.7,514.3 L1377.7,513.8 L1377.7,513.4 L1377.7,512.9 L1377.7,512.5 L1377.7,512.0 L1377.7,511.5 L1377.7,511.0 L1377.7,510.5 L1377.7,510.0 L1377.7,509.5 L1377.7,509.0 L1377.7,508.4 L1377.7,507.9 L1377.7,507.3 L1377.7,506.7 L1377.7,506.2 L1377.7,505.6 L1377.7,505.0 L1377.7,504.4 L1377.7,503.8 L1377.7,503.2 L1377.7,502.5 L1377.7,501.9 L1377.7,501.3 L1377.8,500.6 L1377.8,500.0 L1377.8,499.3 L1377.8,498.6 L1377.8,498.0 L1377.8,497.3 L1377.8,496.6 L1377.8,495.9 L1377.8,495.2 L1377.8,494.5 L1377.8,493.8 L1377.8,493.1 L1377.9,492.4 L1377.9,491.7 L1377.9,490.9 L1377.9,490.2 L1377.9,489.5 L1377.9,488.7 L1378.0,488.0 L1378.0,487.2 L1378.0,486.5 L1378.0,485.7 L1378.0,485.0 L1378.1,484.2 L1378.1,483.4 L1378.1,482.7 L1378.2,481.9 L1378.2,481.1 L1378.3,480.3 L1378.3,479.6 L1378.4,478.8 L1378.4,478.0 L1378.5,477.2 L1378.5,476.4 L1378.6,475.6 L1378.6,474.8 L1378.7,474.0 L1378.8,473.2 L1378.9,472.4 L1379.0,471.6 L1379.1,470.8 L1379.2,470.0 L1379.3,469.1 L1379.4,468.3 L1379.5,467.5 L1379.6,466.7 L1379.8,465.9 L1379.9,465.1 L1380.1,464.2 L1380.3,463.4 L1380.4,462.6 L1380.6,461.8 L1380.8,460.9 L1381.0,460.1 L1381.3,459.3 L1381.5,458.5 L1381.8,457.6 L1382.0,456.8 L1382.3,456.0 L1382.6,455.2 L1382.9,454.3 L1383.3,453.5 L1383.6,452.7 L1384.0,451.8 L1384.4,451.0 L1384.8,450.2 L1385.3,449.3 L1385.7,448.5 L1386.2,447.7 L1386.7,446.8 L1387.3,446.0 L1387.8,445.2 L1388.4,444.3 L1389.1,443.5 L1389.7,442.7 L1390.4,441.8 L1391.1,441.0 L1391.9,440.2 L1392.7,439.3 L1393.5,438.5 L1394.4,437.7 L1395.3,436.8 L1396.3,436.0 L1397.2,435.2 L1398.3,434.3 L1399.4,433.5 L1400.5,432.7 L1401.7,431.8 L1402.9,431.0 L1404.2,430.2 L1405.5,429.3 L1406.9,428.5 L1408.4,427.7 L1409.9,426.9 L1411.4,426.0 L1413.1,425.2 L1414.7,424.4 L1416.5,423.5 L1418.3,422.7 L1420.2,421.9 L1422.1,421.0 L1424.1,420.2 L1426.2,419.4 L1428.4,418.5 L1430.6,417.7 L1432.9,416.9 L1435.3,416.1 L1437.7,415.2 L1440.3,414.4 L1442.9,413.6 L1445.6,412.7 L1448.4,411.9 L1451.2,411.1 L1454.1,410.2 L1457.2,409.4 L1460.3,408.6 L1463.5,407.7 L1466.8,406.9 L1470.1,406.1 L1473.6,405.3 L1477.1,404.4 L1480.7,403.6 L1484.5,402.8 L1488.3,401.9 L1492.2,401.1 L1496.2,400.3 L1500.2,399.4 L1504.4,398.6 L1508.7,397.8 L1513.0,396.9 L1517.4,396.1 L1522.0,395.3 L1526.6,394.4 L1531.2,393.6 L1536.0,392.8 L1540.9,391.9 L1545.8,391.1 L1550.9,390.2 L1556.0,389.4 L1561.2,388.6 L1566.4,387.7 L1571.8,386.9 L1577.2,386.0 L1582.7,385.2 L1588.2,384.4 L1593.9,383.5 L1599.6,382.7 L1605.3,381.8 L1611.2,381.0 L1617.1,380.2 L1623.0,379.3 L1629.0,378.5 L1635.1,377.6 L1641.2,376.8 L1647.3,375.9 L1653.6,375.1 L1659.8,374.2 L1666.1,373.4 L1672.4,372.5 L1678.8,371.7 L1685.2,370.8 L1691.6,370.0 L1698.0,369.1 L1704.5,368.3 L1711.0,367.4 L1717.4,366.6 L1724.0,365.7 L1730.5,364.8 L1737.0,364.0 L1743.5,363.1 L1750.0,362.3 L1756.5,361.4 L1763.1,360.6 L1769.5,359.7 L1776.0,358.8 L1782.5,358.0 L1788.9,357.1 L1795.3,356.2 L1801.7,355.4 L1808.1,354.5 L1814.4,353.7 L1820.7,352.8 L1826.9,351.9 L1833.2,351.1 L1839.3,350.2 L1845.4,349.3 L1851.5,348.5 L1857.5,347.6 L1863.4,346.7 L1869.3,345.9 L1875.2,345.0 L1880.9,344.1 L1886.6,343.3 L1892.3,342.4 L1897.8,341.5 L1903.3,340.6 L1908.7,339.8 L1914.1,338.9 L1919.3,338.0 L1924.5,337.2 L1929.6,336.3 L1934.7,335.4 L1939.6,334.5 L1944.5,333.7 L1949.3,332.8 L1953.9,331.9 L1958.5,331.1 L1963.1,330.2 L1967.5,329.3 L1971.8,328.4 L1976.1,327.6 L1980.3,326.7 L1984.3,325.8 L1988.3,325.0 L1992.2,324.1 L1996.0,323.2 L1999.8,322.3 L2003.4,321.5 L2006.9,320.6 L2010.4,319.7 L2013.7,318.9 L2017.0,318.0 L2020.2,317.1 L2023.3,316.3 L2026.4,315.4 L2029.3,314.5 L2032.1,313.7 L2034.9,312.8 L2037.6,311.9 L2040.2,311.1 L2042.8,310.2 L2045.2,309.3 L2047.6,308.5 L2049.9,307.6 L2052.1,306.7 L2054.3,305.9 L2056.4,305.0 L2058.4,304.1 L2060.3,303.3 L2062.2,302.4 L2064.0,301.5 L2065.8,300.7 L2067.4,299.8 L2069.1,299.0 L2070.6,298.1 L2072.1,297.2 L2073.6,296.4 L2075.0,295.5 L2076.3,294.7 L2077.6,293.8 L2078.8,292.9 L2080.0,292.1 L2081.1,291.2 L2082.2,290.3 L2083.3,289.5 L2084.2,288.6 L2085.2,287.8 L2086.1,286.9 L2087.0,286.0 L2087.8,285.2 L2088.6,284.3 L2089.4,283.4 L2090.1,282.6 L2090.8,281.7 L2091.4,280.8 L2092.1,279.9 L2092.7,279.1 L2093.2,278.2 L2093.8,277.3 L2094.3,276.4 L2094.8,275.5 L2095.2,274.6 L2095.7,273.8 L2096.1,272.9 L2096.5,272.0 L2096.9,271.1 L2097.2,270.2 L2097.6,269.3 L2097.9,268.4 L2098.2,267.4 L2098.5,266.5 L2098.7,265.6 L2099.0,264.7 L2099.2,263.7 L2099.5,262.8 L2099.7,261.8 L2099.9,260.9 L2100.1,259.9 L2100.2,259.0 L2100.4,258.0 L2100.6,257.0 L2100.7,256.0 L2100.9,255.0 L2101.0,254.0 L2101.1,253.0 L2101.2,252.0 L2101.3,250.9 L2101.4,249.9 L2101.5,248.8 L2101.6,247.8 L2101.7,246.7 L2101.8,245.6 L2101.9,244.5 L2101.9,243.4 L2102.0,242.2 L2102.0,241.1 L2102.1,239.9 L2102.1,238.7 L2102.2,237.5 L2102.2,236.3 L2102.3,235.1 L2102.3,233.8 L2102.4,232.6 L2102.4,231.3 L2102.4,230.0 L2102.5,228.7 L2102.5,227.3 L2102.5,225.9 L2102.5,224.5 L2102.5,223.1 L2102.6,221.6 L2102.6,220.2 L2102.6,218.7 L2102.6,217.1 L2102.6,215.6 L2102.6,214.0 L2102.7,212.4 L2102.7,210.7 L2102.7,209.0 L2102.7,207.3 L2102.7,205.6 L2102.7,203.8 L2102.7,201.9 L2102.7,200.1 L2102.7,198.2 L2102.7,196.2 L2102.7,194.2 L2102.7,192.2 L2102.8,190.1 L2102.8,188.0 L2102.8,185.8 L2102.8,183.6 L2102.8,181.3 L2102.8,179.0 L2102.8,176.7 L2102.8,174.2 L2102.8,171.7 L2102.8,169.2 L2102.8,166.6 L2102.8,164.0 L2102.8,161.2 L2102.8,158.4 L2102.8,155.6 L2102.8,152.7 L2102.8,149.7 L2102.8,146.6 L2102.8,143.5 L2102.8,140.3 L2102.8,137.0 L2102.8,133.7 L2102.8,130.2 L2102.8,126.7 L2102.8,123.1 L2102.8,119.4 L2102.8,115.6 L2102.8,111.8 L2102.8,107.8 L2102.8,103.8 L2102.8,99.6"/>
<rect class="sp" x="1341.4" y="20.8" width="797.6999999999998" height="517.7"/>
<line class="tk" x1="1377.50" y1="538.5" x2="1377.50" y2="547.0"/>
<text class="dv" style="font-size:24.7px;stroke-width:1.15px" x="1369.75" y="586.30">0</text>
<line class="tk" x1="1477.30" y1="538.5" x2="1477.30" y2="547.0"/>
<text class="ls" x="1439.19" y="585.60">20,000</text>
<line class="tk" x1="1577.10" y1="538.5" x2="1577.10" y2="547.0"/>
<text class="ls" x="1538.75" y="585.60">40,000</text>
<line class="tk" x1="1676.90" y1="538.5" x2="1676.90" y2="547.0"/>
<text class="ls" x="1637.88" y="585.60">60,000</text>
<line class="tk" x1="1776.70" y1="538.5" x2="1776.70" y2="547.0"/>
<text class="ls" x="1737.86" y="585.60">80,000</text>
<line class="tk" x1="1876.50" y1="538.5" x2="1876.50" y2="547.0"/>
<text class="ls" transform="translate(1830.40,585.60)" clip-path="url(#nofoot)">100,000</text>
<line class="tk" x1="1976.30" y1="538.5" x2="1976.30" y2="547.0"/>
<text class="ls" transform="translate(1930.20,585.60)" clip-path="url(#nofoot)">120,000</text>
<line class="tk" x1="2076.10" y1="538.5" x2="2076.10" y2="547.0"/>
<text class="ls" transform="translate(2029.10,585.60)" clip-path="url(#nofoot)">140,000</text>
<line class="tk" x1="1332.9" y1="93.75" x2="1341.4" y2="93.75"/>
<text class="dv" style="font-size:24.5px" x="1293.95" y="103.00">80</text>
<line class="tk" x1="1332.9" y1="182.7" x2="1341.4" y2="182.7"/>
<text class="dv" style="font-size:24.5px" x="1293.95" y="191.95">60</text>
<line class="tk" x1="1332.9" y1="271.65" x2="1341.4" y2="271.65"/>
<text class="dv" style="font-size:24.5px" x="1293.95" y="280.90">40</text>
<line class="tk" x1="1332.9" y1="360.6" x2="1341.4" y2="360.6"/>
<text class="dv" style="font-size:24.5px" x="1293.95" y="369.85">20</text>
<line class="tk" x1="1332.9" y1="449.55" x2="1341.4" y2="449.55"/>
<text class="dv" style="font-size:24.5px" x="1309.54" y="458.80">0</text>
<line class="tk" x1="1332.9" y1="538.5" x2="1341.4" y2="538.5"/>
<text class="dv" style="font-size:24.5px" x="1273.42" y="547.75">−20</text>
<text class="dv" x="1658.26" y="617.35">Word number</text>
<text class="it" transform="translate(1259.10,302.45) rotate(-90)">Sim</text>
<rect x="1353.15" y="32.35" width="303.30" height="112.0" rx="3.2" ry="3.2" fill="#fff" fill-opacity="0.8" stroke="#ccc" stroke-width="2.9"/>
<line x1="1362.10" y1="51.7" x2="1411.90" y2="51.7" stroke="#0000ff" stroke-width="2.85"/>
<clipPath id="lcb0"><path clip-rule="evenodd" d="M1351.7,26.299999999999997h320v45h-320ZM1534.30,53.58H1539.03V57.80H1534.30ZM1542.09,53.58H1546.72V57.80H1542.09ZM1569.50,53.58H1574.23V57.80H1569.50ZM1577.29,53.58H1581.92V57.80H1577.29Z"/></clipPath>
<text y="56.3" clip-path="url(#lcb0)"><tspan class="it" x="1429.00">C</tspan> <tspan class="it" x="1451.56">ratio</tspan> <tspan class="dv" x="1507.87">=</tspan> <tspan class="ls" x="1533.34" style="font-size:24.4px">1</tspan> <tspan class="dv" x="1552.71">:</tspan> <tspan class="ls" x="1568.54" style="font-size:24.4px">10,000</tspan></text>
<line x1="1362.10" y1="86.8" x2="1411.90" y2="86.8" stroke="#ff0000" stroke-width="2.85"/>
<clipPath id="lcb1"><path clip-rule="evenodd" d="M1351.7,66.0h320v45h-320ZM1533.60,93.28H1538.33V97.50H1533.60ZM1541.39,93.28H1546.02V97.50H1541.39ZM1568.80,93.28H1573.53V97.50H1568.80ZM1576.59,93.28H1581.22V97.50H1576.59Z"/></clipPath>
<text y="96.0" clip-path="url(#lcb1)"><tspan class="it" x="1429.00">C</tspan> <tspan class="it" x="1451.06">ratio</tspan> <tspan class="dv" x="1507.07">=</tspan> <tspan class="ls" x="1532.64" style="font-size:24.4px">1</tspan> <tspan class="dv" x="1552.01">:</tspan> <tspan class="ls" x="1567.84" style="font-size:24.4px">1000</tspan></text>
<line x1="1362.10" y1="121.6" x2="1411.90" y2="121.6" stroke="#008000" stroke-width="2.85"/>
<clipPath id="lcb2"><path clip-rule="evenodd" d="M1351.7,101.69999999999999h320v45h-320ZM1536.30,128.98H1541.03V133.20H1536.30ZM1544.09,128.98H1548.72V133.20H1544.09ZM1566.50,128.98H1571.23V133.20H1566.50ZM1574.29,128.98H1578.92V133.20H1574.29Z"/></clipPath>
<text y="131.7" clip-path="url(#lcb2)"><tspan class="it" x="1429.00">C</tspan> <tspan class="it" x="1451.76">ratio</tspan> <tspan class="dv" x="1507.07">=</tspan> <tspan class="ls" x="1535.34" style="font-size:24.4px">1</tspan> <tspan class="dv" x="1553.51">:</tspan> <tspan class="ls" x="1565.54" style="font-size:24.4px">100</tspan></text>
<text class="cap" y="700.2"><tspan x="10.73" textLength="15.69" lengthAdjust="spacingAndGlyphs">(</tspan><tspan class="b" x="27.54" textLength="24.19" lengthAdjust="spacingAndGlyphs">a</tspan><tspan x="52.51" textLength="16.47" lengthAdjust="spacingAndGlyphs">)</tspan> <tspan x="82.72" textLength="244.82" lengthAdjust="spacingAndGlyphs">Consistent</tspan> <tspan x="342.22" textLength="212.11" lengthAdjust="spacingAndGlyphs">language</tspan></text>
<text class="cap" y="700.2"><tspan x="1198.01" textLength="15.82" lengthAdjust="spacingAndGlyphs">(</tspan><tspan class="b" x="1214.20" textLength="30.63" lengthAdjust="spacingAndGlyphs">b</tspan><tspan x="1246.28" textLength="15.69" lengthAdjust="spacingAndGlyphs">)</tspan> <tspan x="1275.62" textLength="278.82" lengthAdjust="spacingAndGlyphs">Inconsistent</tspan> <tspan x="1569.42" textLength="212.42" lengthAdjust="spacingAndGlyphs">language</tspan></text>
</svg></body></html>
